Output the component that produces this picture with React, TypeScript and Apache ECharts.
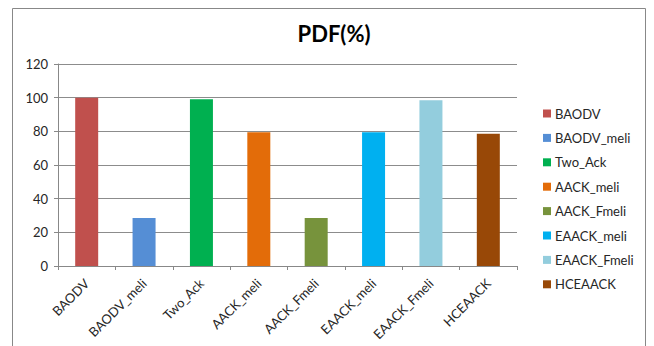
import React, { useEffect, useRef } from "react";
import * as echarts from "echarts";

const categories = [
  "BAODV",
  "BAODV_meli",
  "Two_Ack",
  "AACK_meli",
  "AACK_Fmeli",
  "EAACK_meli",
  "EAACK_Fmeli",
  "HCEAACK",
];
const pdfValues = [100, 28.5, 99, 79.5, 28.5, 79.5, 98.5, 78.5];
const barColors = [
  "#C0504D",
  "#558ED5",
  "#00B050",
  "#E36C09",
  "#77933C",
  "#00B0F0",
  "#93CDDD",
  "#984807",
];
const yTicks = { min: 0, max: 120, interval: 20 };

const FONT = "Lato, 'Liberation Sans', sans-serif";

export default function App() {
  const ref = useRef<HTMLDivElement>(null);

  useEffect(() => {
    if (!ref.current) return;
    const chart = echarts.init(ref.current, undefined, { renderer: "svg" });

    const series = categories.map((name, i) => ({
      name,
      type: "bar",
      stack: "pdf",
      barWidth: 23,
      itemStyle: { color: barColors[i] },
      data: categories.map((_, j) => (j === i ? pdfValues[i] : "-")),
    }));

    chart.setOption({
      animation: false,
      textStyle: { fontFamily: FONT },
      title: {
        text: "PDF(%)",
        left: 329,
        textAlign: "center",
        top: 17,
        textStyle: {
          fontFamily: FONT,
          fontSize: 22,
          fontWeight: "bold",
          color: "#000",
        },
      },
      graphic: [
        {
          type: "rect",
          shape: { x: 12.5, y: 8.5, width: 633, height: 360 },
          style: { fill: "none", stroke: "#888", lineWidth: 1 },
          silent: true,
        },
      ],
      legend: {
        orient: "vertical",
        left: 538,
        top: 102,
        itemWidth: 8,
        itemHeight: 8,
        itemGap: 11.4,
        icon: "rect",
        data: categories,
        textStyle: { fontFamily: FONT, fontSize: 13, color: "#262626", padding: [0, 0, 0, -1] },
      },
      grid: { left: 58, right: 137, top: 64, bottom: 80 },
      xAxis: {
        type: "category",
        data: categories,
        axisLine: { lineStyle: { color: "#888" } },
        axisTick: { show: true, length: 4, lineStyle: { color: "#888" } },
        axisLabel: {
          rotate: 45,
          margin: 15,
          fontFamily: FONT,
          fontSize: 13,
          color: "#262626",
        },
      },
      yAxis: {
        type: "value",
        min: yTicks.min,
        max: yTicks.max,
        interval: yTicks.interval,
        axisLine: { show: true, lineStyle: { color: "#888" } },
        axisTick: { show: true, length: 4, lineStyle: { color: "#888" } },
        splitLine: { lineStyle: { color: "#8c8c8c" } },
        axisLabel: {
          margin: 10,
          fontFamily: FONT,
          fontSize: 13,
          color: "#262626",
        },
      },
      series,
    });

    return () => chart.dispose();
  }, []);

  return (
    <div
      ref={ref}
      style={{
        position: "fixed",
        left: 0,
        top: 0,
        width: 654,
        height: 346,
        background: "#fff",
      }}
    />
  );
}
